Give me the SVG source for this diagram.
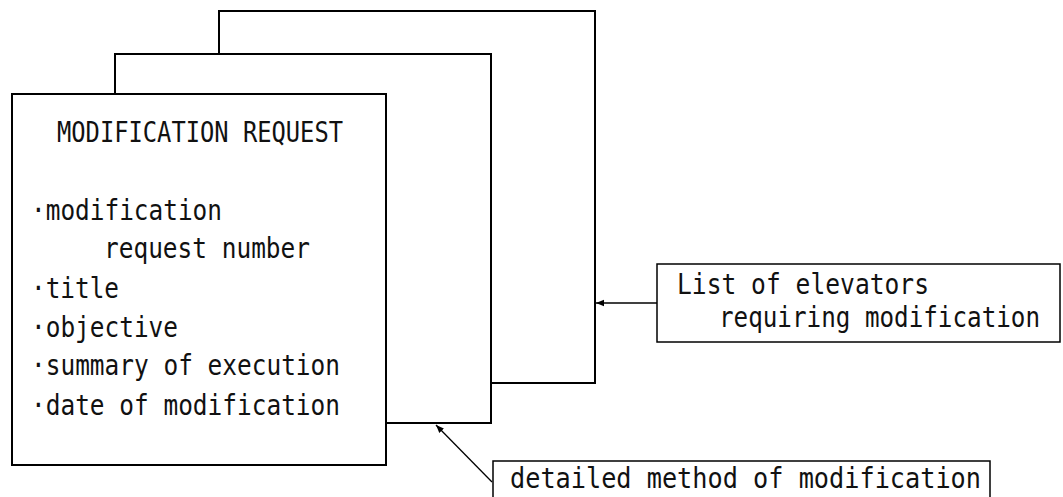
<svg xmlns="http://www.w3.org/2000/svg" width="1063" height="497" viewBox="0 0 1063 497">
  <style>
    .sheet { fill: #ffffff; stroke: #000000; stroke-width: 2; }
    .label { fill: #ffffff; stroke: #000000; stroke-width: 1.5; }
    .txt { font-family: "DejaVu Sans Mono", "Liberation Mono", monospace; font-size: 28px; fill: #111111; }
    .conn { stroke: #000000; stroke-width: 1.3; fill: none; }
  </style>
  <defs>
    <marker id="arrow" viewBox="0 0 10 10" refX="10" refY="5" markerWidth="8" markerHeight="8" markerUnits="userSpaceOnUse" orient="auto">
      <path d="M0,1 L10,5 L0,9 Z" fill="#000000"/>
    </marker>
  </defs>
  <rect width="1063" height="497" fill="#ffffff"/>

  <!-- stacked request sheets, back to front -->
  <g id="sheet-back">
    <rect class="sheet" x="219" y="11" width="376" height="372"/>
  </g>
  <g id="sheet-middle">
    <rect class="sheet" x="115" y="54" width="376" height="369"/>
  </g>
  <g id="sheet-front">
    <rect class="sheet" x="12" y="94" width="374" height="371"/>
    <text class="txt" x="57" y="142" textLength="286" lengthAdjust="spacingAndGlyphs">MODIFICATION REQUEST</text>
    <text class="txt" x="31" y="220" textLength="191" lengthAdjust="spacingAndGlyphs">·modification</text>
    <text class="txt" x="104" y="258" textLength="206" lengthAdjust="spacingAndGlyphs">request number</text>
    <text class="txt" x="31" y="298" textLength="88" lengthAdjust="spacingAndGlyphs">·title</text>
    <text class="txt" x="31" y="337" textLength="147" lengthAdjust="spacingAndGlyphs">·objective</text>
    <text class="txt" x="31" y="375" textLength="309" lengthAdjust="spacingAndGlyphs">·summary of execution</text>
    <text class="txt" x="31" y="415" textLength="309" lengthAdjust="spacingAndGlyphs">·date of modification</text>
  </g>

  <!-- annotation labels -->
  <g id="label-elevators">
    <rect class="label" x="657" y="264" width="403" height="78"/>
    <text class="txt" x="677" y="294" textLength="252" lengthAdjust="spacingAndGlyphs">List of elevators</text>
    <text class="txt" x="719" y="327" textLength="321" lengthAdjust="spacingAndGlyphs">requiring modification</text>
  </g>
  <g id="label-method">
    <rect class="label" x="493" y="461" width="497" height="60"/>
    <text class="txt" x="510" y="488" textLength="471" lengthAdjust="spacingAndGlyphs">detailed method of modification</text>
  </g>

  <!-- connectors -->
  <g id="connectors">
    <line class="conn" x1="657" y1="303" x2="596" y2="303" marker-end="url(#arrow)"/>
    <line class="conn" x1="492" y1="482" x2="436" y2="425" marker-end="url(#arrow)"/>
  </g>
</svg>
